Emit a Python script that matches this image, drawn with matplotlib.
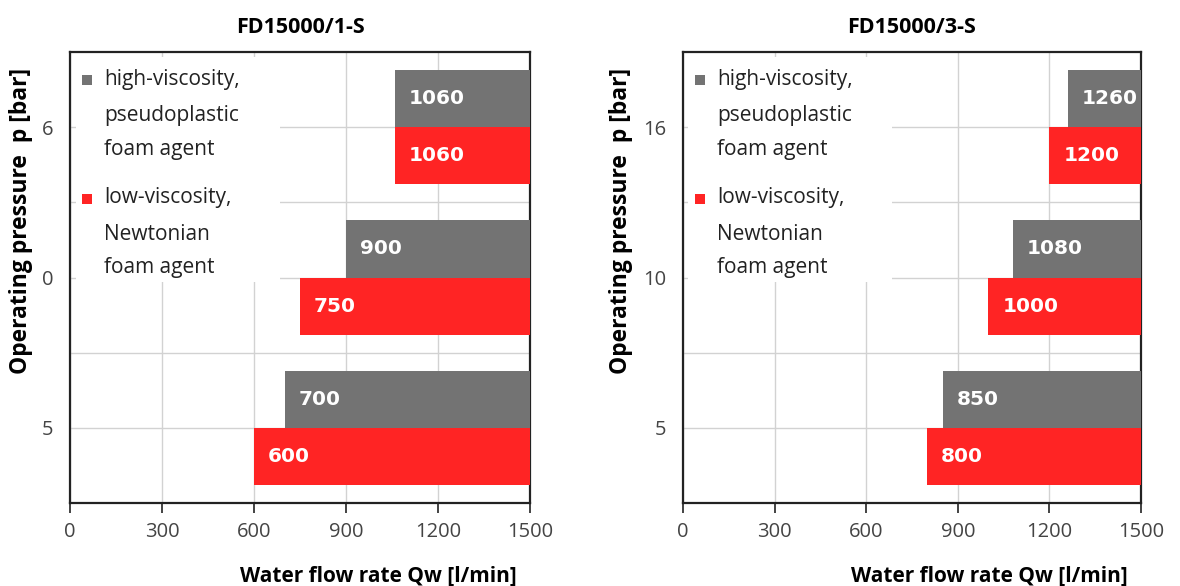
import matplotlib
matplotlib.use('Agg')
import matplotlib.pyplot as plt
from matplotlib.patches import Rectangle

plt.rcParams['font.family'] = ['Open Sans', 'DejaVu Sans']

# data (bottom -> top)
titles = ['FD15000/1-S', 'FD15000/3-S']
pressure_labels = [['5', '0', '6'], ['5', '10', '16']]
high_visc = [[700, 900, 1060], [850, 1080, 1260]]
low_visc = [[600, 750, 1060], [800, 1000, 1200]]
x_max = 1500
x_ticks = [0, 300, 600, 900, 1200, 1500]

legend_labels = ['high-viscosity,\npseudoplastic\nfoam agent',
                 'low-viscosity,\nNewtonian\nfoam agent']

GRAY = '#737373'
RED = '#ff2424'
GRID = '#d2d2d2'

fig = plt.figure(figsize=(11.8, 5.86), dpi=100)
axes = [fig.add_axes([70/1180, 83/586, 460/1180, 451/586]),
        fig.add_axes([683/1180, 83/586, 458/1180, 451/586])]
ylabel_x = [-0.08, -0.11]

bar_h = 0.76

for k, ax in enumerate(axes):
    cat_y = [1, 3, 5]
    hi = high_visc[k]
    lo = low_visc[k]

    # bars run from the value to the right edge
    ax.barh([y + bar_h/2 for y in cat_y], [x_max - v for v in hi], left=hi,
            height=bar_h, color=GRAY, zorder=3)
    ax.barh([y - bar_h/2 for y in cat_y], [x_max - v for v in lo], left=lo,
            height=bar_h, color=RED, zorder=3)
    for y, v in zip(cat_y, hi):
        ax.annotate(str(v), (v, y + bar_h/2), xytext=(10, 0), textcoords='offset points',
                    color='white', fontsize=14.5, fontweight='bold', family='DejaVu Sans',
                    va='center', ha='left', zorder=5)
    for y, v in zip(cat_y, lo):
        ax.annotate(str(v), (v, y - bar_h/2), xytext=(10, 0), textcoords='offset points',
                    color='white', fontsize=14.5, fontweight='bold', family='DejaVu Sans',
                    va='center', ha='left', zorder=5)

    ax.set_xlim(0, x_max)
    ax.set_ylim(0, 6)
    ax.set_xticks(x_ticks)
    ax.set_xticklabels([str(t) for t in x_ticks])
    labs = pressure_labels[k]
    ax.set_yticks([1, 2, 3, 4, 5])
    ax.set_yticklabels([labs[0], '', labs[1], '', labs[2]])

    ax.grid(True, color=GRID, linewidth=1.0, zorder=0)
    ax.set_axisbelow(True)
    ax.tick_params(axis='x', length=7, width=1.2, direction='out', pad=7,
                   labelsize=14.5, labelcolor='#444444', color='#222222')
    ax.tick_params(axis='y', length=0, pad=12, labelsize=14.5, labelcolor='#444444')
    for s in ax.spines.values():
        s.set_linewidth(1.6)
        s.set_color('#222222')

    ax.set_title(titles[k], fontsize=15.5, fontweight='bold', pad=14)
    ax.set_xlabel('Water flow rate Qw [l/min]', fontsize=15, fontweight='bold')
    ax.xaxis.set_label_coords(0.67, -0.138)
    ax.set_ylabel('Operating pressure  p [bar]', fontsize=16.5, fontweight='bold')
    ax.yaxis.set_label_coords(ylabel_x[k], 0.625)

    # legend block (white background hides the grid)
    ax.add_patch(Rectangle((0.012, 0.49), 0.445, 0.5, transform=ax.transAxes,
                           facecolor='white', edgecolor='none', zorder=1))
    line_tops = [[79, 115, 149], [198, 234, 268]]
    for j, (lab, col) in enumerate(zip(legend_labels, [GRAY, RED])):
        y0 = line_tops[j][0]
        ax.add_patch(Rectangle((0.026, (503 - y0 - 6) / 451), 0.022, 0.022,
                               transform=ax.transAxes, facecolor=col,
                               edgecolor='none', zorder=2))
        for line, yp in zip(lab.split('\n'), line_tops[j]):
            ax.text(0.074, (503 - yp) / 451, line, transform=ax.transAxes,
                    fontsize=15, color='#222222', va='center', ha='left', zorder=2)

fig.savefig('out.png', dpi=100)
